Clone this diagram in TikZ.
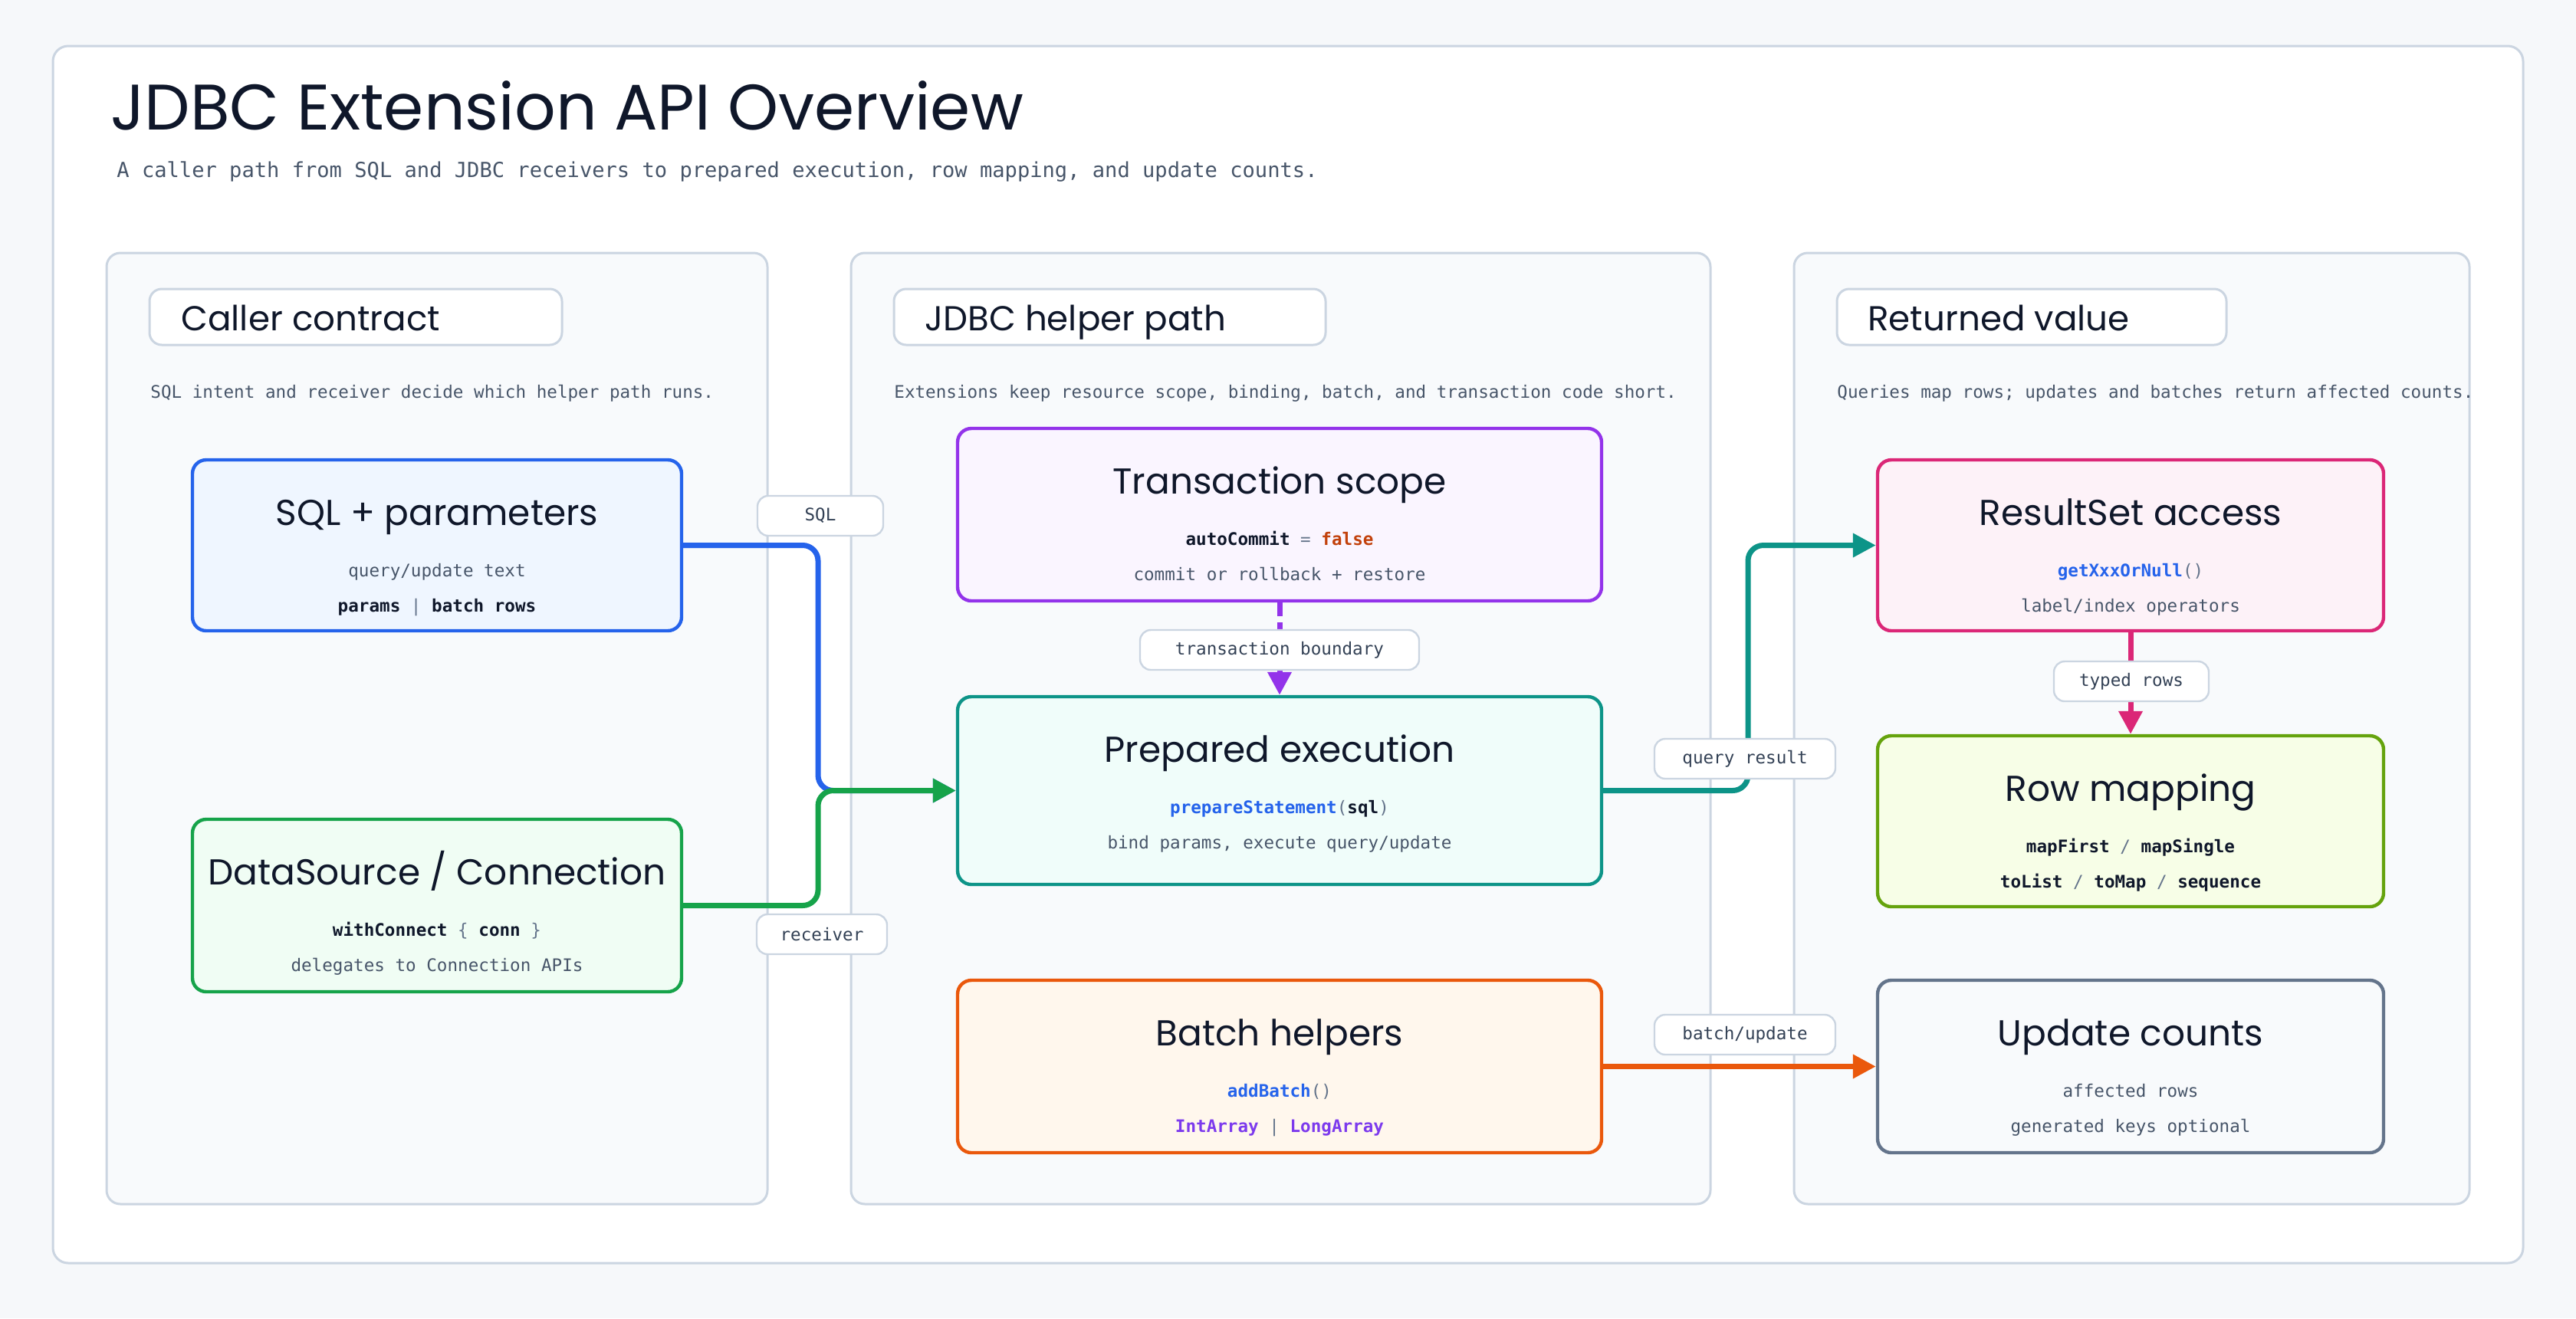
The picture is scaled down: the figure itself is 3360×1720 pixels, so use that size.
\documentclass[tikz,border=0pt]{standalone}
\usepackage{fontspec}
\usetikzlibrary{arrows.meta,fit}
\setmainfont{Poppins}
\newfontfamily\popf{Poppins}
\newfontfamily\monf{DejaVu Sans Mono}
\definecolor{pagebg}{HTML}{F6F8FA}
\definecolor{panelbg}{HTML}{F8FAFC}
\definecolor{linec}{HTML}{CBD5E1}
\definecolor{ink}{HTML}{0F172A}
\definecolor{muted}{HTML}{475569}
\definecolor{pun}{HTML}{64748B}
\definecolor{labc}{HTML}{334155}
\definecolor{cblue}{HTML}{2563EB}
\definecolor{cbluebg}{HTML}{EFF6FF}
\definecolor{cgreen}{HTML}{16A34A}
\definecolor{cgreenbg}{HTML}{F0FDF4}
\definecolor{cpurple}{HTML}{9333EA}
\definecolor{cpurplebg}{HTML}{FAF5FF}
\definecolor{cteal}{HTML}{0D9488}
\definecolor{ctealbg}{HTML}{F0FDFA}
\definecolor{corange}{HTML}{EA580C}
\definecolor{corangebg}{HTML}{FFF7ED}
\definecolor{cpink}{HTML}{DB2777}
\definecolor{cpinkbg}{HTML}{FDF2F8}
\definecolor{clime}{HTML}{65A30D}
\definecolor{climebg}{HTML}{F7FEE7}
\definecolor{cslate}{HTML}{64748B}
\definecolor{cslatebg}{HTML}{F8FAFC}
\definecolor{falsec}{HTML}{C2410C}
\definecolor{codeblue}{HTML}{2563EB}
\definecolor{codepurple}{HTML}{7C3AED}
\newcommand\maintitlefont{\popf\fontsize{42pt}{48pt}\selectfont}
\newcommand\subfont{\monf\fontsize{13.55pt}{16pt}\selectfont}
\newcommand\headfont{\popf\fontsize{22.6pt}{26pt}\selectfont}
\newcommand\ttlfont{\popf\fontsize{23.5pt}{28pt}\selectfont}
\newcommand\bodyfont{\monf\fontsize{11.3pt}{14pt}\selectfont}
\tikzset{
  frame/.style={draw=linec, fill=white, line width=1.5pt, rounded corners=10pt, inner sep=0pt},
  panel/.style={draw=linec, fill=panelbg, line width=1.5pt, rounded corners=9pt, inner sep=0pt},
  head/.style={draw=linec, fill=white, line width=1.5pt, rounded corners=8pt, inner sep=0pt},
  headtxt/.style={anchor=base west, font=\headfont, text=ink, inner sep=0pt},
  desc/.style={anchor=base west, font=\bodyfont, text=muted, inner sep=0pt},
  box/.style={line width=2.2pt, rounded corners=9pt, inner sep=0pt},
  ttl/.style={anchor=base, font=\ttlfont, text=ink, inner sep=0pt},
  body/.style={anchor=base, font=\bodyfont, text=muted, inner sep=0pt},
  code/.style={anchor=base, font=\bodyfont, text=ink, inner sep=0pt},
  pill/.style={draw=linec, fill=white, line width=1.2pt, rounded corners=7pt, font=\bodyfont, text=labc, inner sep=0pt, minimum height=26pt},
  flow/.style={line width=3.5pt, rounded corners=10pt, -{Triangle[length=15pt,width=15pt]}},
}
\begin{document}
\begin{tikzpicture}[x=0.5pt,y=-0.5pt]
\useasboundingbox (0,0) rectangle (3360,1720);
\fill[pagebg] (0,0) rectangle (3360,1720);
\node[frame, fit={(69,60)(3291,1648)}] (frame) {};
\node[anchor=base west, font=\maintitlefont, text=ink, inner sep=0pt] (title) at (144,169) {JDBC Extension API Overview};
\node[anchor=base west, font=\subfont, text=muted, inner sep=0pt] (subtitle) at (152,231) {A caller path from SQL and JDBC receivers to prepared execution, row mapping, and update counts.};

% panels
\node[panel, fit={(139,330)(1001,1571)}] (p1) {};
\node[panel, fit={(1110,330)(2231,1571)}] (p2) {};
\node[panel, fit={(2340,330)(3221,1571)}] (p3) {};
\node[head, fit={(195,377)(733,450)}] (h1) {};
\node[head, fit={(1166,377)(1729,450)}] (h2) {};
\node[head, fit={(2396,377)(2904,450)}] (h3) {};
\node[headtxt] (h1t) at (236,431) {Caller contract};
\node[headtxt] (h2t) at (1206,431) {JDBC helper path};
\node[headtxt] (h3t) at (2436,431) {Returned value};
\node[desc] (d1) at (196,519) {SQL intent and receiver decide which helper path runs.};
\node[desc] (d2) at (1166,519) {Extensions keep resource scope, binding, batch, and transaction code short.};
\node[desc] (d3) at (2396,519) {Queries map rows; updates and batches return affected counts.};

% boxes
\node[box, draw=cblue, fill=cbluebg, fit={(251,600)(889,823)}] (sql) {};
\node[ttl] (sqlT) at (570,685) {SQL + parameters};
\node[body] (sqlA) at (570,752) {query/update text};
\node[code] (sqlB) at (570,798) {\textbf{params} \textcolor{pun}{|} \textbf{batch rows}};

\node[box, draw=cgreen, fill=cgreenbg, fit={(251,1069)(889,1294)}] (ds) {};
\node[ttl] (dsT) at (570,1154) {DataSource / Connection};
\node[code] (dsA) at (570,1221) {\textbf{withConnect} \textcolor{pun}{\{} \textbf{conn} \textcolor{pun}{\}}};
\node[body] (dsB) at (570,1267) {delegates to Connection APIs};

\node[box, draw=cpurple, fill=cpurplebg, fit={(1249,559)(2089,784)}] (tx) {};
\node[ttl] (txT) at (1669,644) {Transaction scope};
\node[code] (txA) at (1669,711) {\textbf{autoCommit} \textcolor{pun}{=} \textcolor{falsec}{\textbf{false}}};
\node[body] (txB) at (1669,757) {commit or rollback + restore};

\node[box, draw=cteal, fill=ctealbg, fit={(1249,909)(2089,1154)}] (prep) {};
\node[ttl] (prepT) at (1669,994) {Prepared execution};
\node[code] (prepA) at (1669,1061) {\textcolor{codeblue}{\textbf{prepareStatement}}\textcolor{pun}{(}\textbf{sql}\textcolor{pun}{)}};
\node[body] (prepB) at (1669,1107) {bind params, execute query/update};

\node[box, draw=corange, fill=corangebg, fit={(1249,1279)(2089,1504)}] (batch) {};
\node[ttl] (batchT) at (1669,1364) {Batch helpers};
\node[code] (batchA) at (1669,1431) {\textcolor{codeblue}{\textbf{addBatch}}\textcolor{pun}{()}};
\node[code] (batchB) at (1669,1477) {\textcolor{codepurple}{\textbf{IntArray}} \textcolor{pun}{|} \textcolor{codepurple}{\textbf{LongArray}}};

\node[box, draw=cpink, fill=cpinkbg, fit={(2449,600)(3109,823)}] (rs) {};
\node[ttl] (rsT) at (2779,685) {ResultSet access};
\node[code] (rsA) at (2779,752) {\textcolor{codeblue}{\textbf{getXxxOrNull}}\textcolor{pun}{()}};
\node[body] (rsB) at (2779,798) {label/index operators};

\node[box, draw=clime, fill=climebg, fit={(2449,960)(3109,1183)}] (rm) {};
\node[ttl] (rmT) at (2779,1045) {Row mapping};
\node[code] (rmA) at (2779,1112) {\textbf{mapFirst} \textcolor{pun}{/} \textbf{mapSingle}};
\node[code] (rmB) at (2779,1158) {\textbf{toList} \textcolor{pun}{/} \textbf{toMap} \textcolor{pun}{/} \textbf{sequence}};

\node[box, draw=cslate, fill=cslatebg, fit={(2449,1279)(3109,1504)}] (uc) {};
\node[ttl] (ucT) at (2779,1364) {Update counts};
\node[body] (ucA) at (2779,1431) {affected rows};
\node[body] (ucB) at (2779,1477) {generated keys optional};

% connectors
\coordinate (jx) at (1067,0);
\coordinate (qx) at (2280,0);
\draw[flow, cblue] (sql.east) -- (sql.east -| jx) -- (prep.west -| jx) -- (prep.west);
\draw[flow, cgreen] (ds.east) -- (ds.east -| jx) -- (prep.west -| jx) -- (prep.west);
\draw[flow, cteal] (prep.east) -- (prep.east -| qx) -- (rs.west -| qx) -- (rs.west);
\draw[flow, corange] (batch.east) -- (uc.west);
\draw[flow, cpink] (rs.south) -- (rm.north);
\draw[flow, cpurple, dash pattern=on 9pt off 4pt] (tx.south) -- (prep.north);

% labels
\node[pill, minimum width=82pt] (lsql) at (1070,673) {SQL};
\node[pill, minimum width=85pt] (lrec) at (1072,1219) {receiver};
\node[pill, minimum width=182pt] (ltb) at (1669,848) {transaction boundary};
\node[pill, minimum width=118pt] (lqr) at (2276,990) {query result};
\node[pill, minimum width=101pt] (ltr) at (2780,889) {typed rows};
\node[pill, minimum width=118pt] (lbu) at (2276,1350) {batch/update};
\end{tikzpicture}
\end{document}
